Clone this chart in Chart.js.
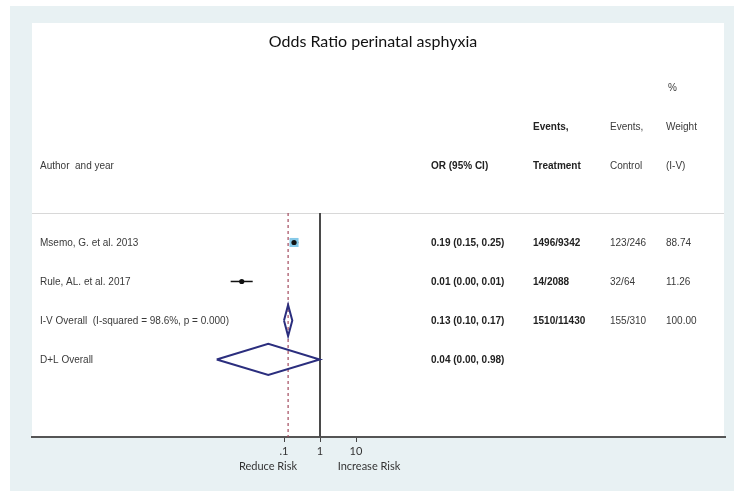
<!DOCTYPE html>
<html>
<head>
<meta charset="utf-8">
<title>Odds Ratio perinatal asphyxia</title>
<script src="https://cdn.jsdelivr.net/npm/chart.js@4/dist/chart.umd.min.js"></script>
<style>
  html, body { margin: 0; padding: 0; background: #ffffff; }
  canvas { display: block; }
</style>
</head>
<body>
<canvas id="forest" width="734" height="491"></canvas>
<script>
// ---- Study-level data ----
const studyNames = ['Msemo, G. et al. 2013', 'Rule, AL. et al. 2017'];
const studyOR = [0.19, 0.0067];
const studyLower = [0.15, 0.0033];
const studyUpper = [0.25, 0.0135];
const studyTreatment = ['1496/9342', '14/2088'];
const studyControl = ['123/246', '32/64'];
const studyWeight = [88.74, 11.26];

// ---- Pooled estimates ----
const pooledNames = ['I-V Overall  (I-squared = 98.6%, p = 0.000)', 'D+L Overall'];
const pooledOR = [0.13, 0.0366];
const pooledLower = [0.10, 0.00135];
const pooledUpper = [0.17, 0.98];
const pooledTreatment = ['1510/11430', ''];
const pooledControl = ['155/310', ''];
const pooledWeight = [100.00, null];

// ---- Axis ticks ----
const xTickValues = [0.1, 1, 10];
const xTickLabels = ['.1', '1', '10'];

const chartTitle = 'Odds Ratio perinatal asphyxia';

const TEXT_FONT = '"Liberation Sans", Arial, sans-serif';
const AXIS_FONT = 'Lato, "Open Sans", sans-serif';
const fmt2 = v => v.toFixed(2);

// rows: studies first, then pooled lines
const studyRows = studyNames.map((_, i) => i);
const pooledRows = pooledNames.map((_, i) => studyNames.length + i);

const datasets = [];

// confidence interval whiskers
studyNames.forEach((name, i) => {
  datasets.push({
    label: name + ' CI',
    data: [{ x: studyLower[i], y: studyRows[i] }, { x: studyUpper[i], y: studyRows[i] }],
    showLine: true,
    borderColor: '#111111',
    borderWidth: 1.5,
    pointRadius: 0,
    order: 3
  });
});

// weight boxes (area proportional to weight)
datasets.push({
  label: 'weights',
  data: studyNames.map((_, i) => ({ x: studyOR[i], y: studyRows[i] })),
  pointStyle: 'rect',
  pointRadius: studyWeight.map(w => 0.68 * Math.sqrt(w)),
  backgroundColor: '#86c9e8',
  borderWidth: 0,
  order: 2
});

// point estimates
datasets.push({
  label: 'estimates',
  data: studyNames.map((_, i) => ({ x: studyOR[i], y: studyRows[i] })),
  pointStyle: 'circle',
  pointRadius: 2.6,
  backgroundColor: '#111111',
  borderWidth: 0,
  order: 1
});

// pooled diamonds
const DIAMOND_HALF = 0.4;
pooledNames.forEach((name, i) => {
  const r = pooledRows[i];
  datasets.push({
    label: name,
    data: [
      { x: pooledLower[i], y: r },
      { x: pooledOR[i], y: r - DIAMOND_HALF },
      { x: pooledUpper[i], y: r },
      { x: pooledOR[i], y: r + DIAMOND_HALF },
      { x: pooledLower[i], y: r }
    ],
    showLine: true,
    fill: false,
    borderColor: '#2b2e7e',
    borderWidth: 2,
    pointRadius: 0,
    order: 1
  });
});

// page backgrounds and the frame around the plot
const framePlugin = {
  id: 'frame',
  beforeDraw(chart) {
    const { ctx, chartArea } = chart;
    ctx.save();
    ctx.fillStyle = '#ffffff';
    ctx.fillRect(0, 0, chart.width, chart.height);
    ctx.fillStyle = '#e8f1f3';
    ctx.fillRect(10, 6, chart.width - 10, chart.height - 6);
    ctx.fillStyle = '#ffffff';
    ctx.fillRect(chartArea.left, 23, chartArea.right - 1 - chartArea.left, chartArea.bottom - 23);
    ctx.strokeStyle = '#d8d8d8';
    ctx.lineWidth = 1;
    ctx.beginPath();
    ctx.moveTo(chartArea.left, chartArea.top + 0.5);
    ctx.lineTo(chartArea.right - 1, chartArea.top + 0.5);
    ctx.stroke();
    // title
    ctx.fillStyle = '#111111';
    ctx.font = '16px ' + AXIS_FONT;
    ctx.textAlign = 'center';
    ctx.textBaseline = 'middle';
    ctx.fillText(chartTitle, 373, 42);
    ctx.restore();
  },
  beforeDatasetsDraw(chart) {
    const { ctx, chartArea, scales } = chart;
    const x1 = scales.x.getPixelForValue(1);
    const xp = scales.x.getPixelForValue(pooledOR[0]);
    ctx.save();
    // line of no effect
    ctx.strokeStyle = '#4a4a4a';
    ctx.lineWidth = 2;
    ctx.beginPath();
    ctx.moveTo(x1, chartArea.top);
    ctx.lineTo(x1, chartArea.bottom);
    ctx.stroke();
    // pooled (I-V) estimate
    ctx.strokeStyle = '#a34a5e';
    ctx.lineWidth = 1.2;
    ctx.setLineDash([3, 3]);
    ctx.beginPath();
    ctx.moveTo(xp, chartArea.top);
    ctx.lineTo(xp, chartArea.bottom);
    ctx.stroke();
    ctx.restore();
  }
};

// table columns beside the plot
const COLS = { author: 40, or: 431, treat: 533, control: 610, weight: 666 };
const tablePlugin = {
  id: 'forestTable',
  afterDraw(chart) {
    const { ctx, scales, chartArea } = chart;
    const y = scales.y;
    const plain = '10px ' + TEXT_FONT;
    const bold = 'bold 10px ' + TEXT_FONT;
    const put = (txt, x, yy, font, color) => {
      if (!txt) return;
      ctx.font = font;
      ctx.fillStyle = color || '#222222';
      ctx.fillText(txt, x, yy);
    };
    const grey = '#3a3a3a';
    ctx.save();
    ctx.textBaseline = 'middle';
    ctx.textAlign = 'left';

    // header
    put('%', COLS.weight + 2, 88, plain, grey);
    put('Events,', COLS.treat, 127, bold);
    put('Events,', COLS.control, 127, plain, grey);
    put('Weight', COLS.weight, 127, plain, grey);
    put('Author  and year', COLS.author, 166, plain, grey);
    put('OR (95% CI)', COLS.or, 166, bold);
    put('Treatment', COLS.treat, 166, bold);
    put('Control', COLS.control, 166, plain, grey);
    put('(I-V)', COLS.weight, 166, plain, grey);

    studyNames.forEach((name, i) => {
      const yy = y.getPixelForValue(studyRows[i]) + 1;
      put(name, COLS.author, yy, plain, grey);
      put(`${fmt2(studyOR[i])} (${fmt2(studyLower[i])}, ${fmt2(studyUpper[i])})`, COLS.or, yy, bold);
      put(studyTreatment[i], COLS.treat, yy, bold);
      put(studyControl[i], COLS.control, yy, plain, grey);
      put(fmt2(studyWeight[i]), COLS.weight, yy, plain, grey);
    });
    pooledNames.forEach((name, i) => {
      const yy = y.getPixelForValue(pooledRows[i]) + 1;
      put(name, COLS.author, yy, plain, grey);
      put(`${fmt2(pooledOR[i])} (${fmt2(pooledLower[i])}, ${fmt2(pooledUpper[i])})`, COLS.or, yy, bold);
      put(pooledTreatment[i], COLS.treat, yy, bold);
      put(pooledControl[i], COLS.control, yy, plain, grey);
      if (pooledWeight[i] !== null) put(fmt2(pooledWeight[i]), COLS.weight, yy, plain, grey);
    });

    // direction captions under the axis
    const x1 = scales.x.getPixelForValue(1);
    ctx.font = '11px ' + AXIS_FONT;
    ctx.textAlign = 'center';
    ctx.fillStyle = '#333333';
    ctx.fillText('Reduce Risk', x1 - 52, chartArea.bottom + 29);
    ctx.fillText('Increase Risk', x1 + 49, chartArea.bottom + 29);
    ctx.restore();
  }
};

new Chart(document.getElementById('forest'), {
  type: 'scatter',
  data: { datasets },
  options: {
    responsive: false,
    devicePixelRatio: 1,
    animation: false,
    events: [],
    layout: { padding: { left: 32, right: 9, top: 213, bottom: 0 } },
    plugins: {
      legend: { display: false },
      tooltip: { enabled: false },
      title: { display: false }
    },
    scales: {
      x: {
        type: 'logarithmic',
        min: Math.pow(10, -8),
        max: Math.pow(10, 405 / 36),
        afterBuildTicks(scale) {
          scale.ticks = xTickValues.map(v => ({ value: v }));
        },
        afterFit(scale) { scale.height = 54; },
        ticks: {
          autoSkip: false,
          maxRotation: 0,
          padding: 3,
          color: '#333333',
          font: { family: AXIS_FONT, size: 11 },
          callback: (value, index) => xTickLabels[index]
        },
        grid: {
          display: true,
          drawOnChartArea: false,
          drawTicks: true,
          tickLength: 5,
          color: '#444444',
          lineWidth: 1
        },
        border: { display: true, color: '#555555', width: 2 }
      },
      y: {
        type: 'linear',
        display: false,
        reverse: true,
        min: -0.756,
        max: 4.988
      }
    }
  },
  plugins: [framePlugin, tablePlugin]
});
</script>
</body>
</html>
